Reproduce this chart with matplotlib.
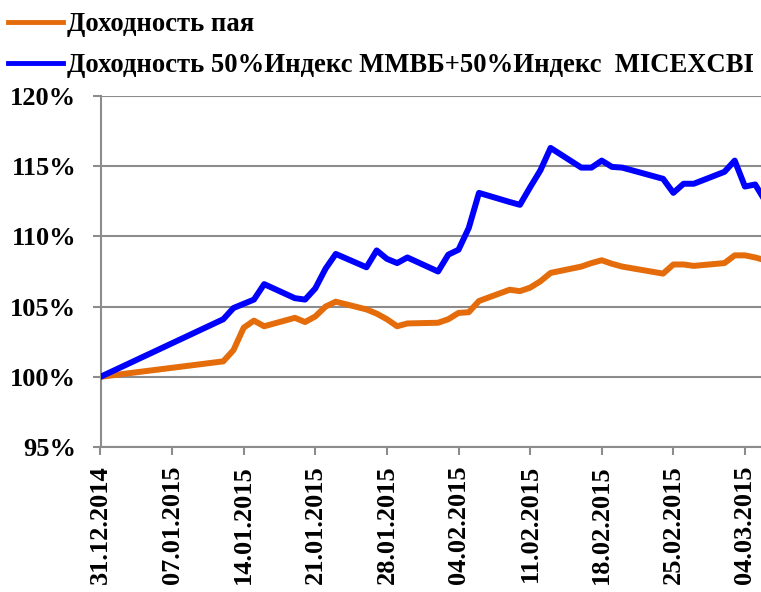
import numpy as np
import pandas as pd
import matplotlib
matplotlib.use("Agg")
import matplotlib.pyplot as plt
import matplotlib.dates as mdates
from matplotlib.ticker import FuncFormatter

# trading dates
dates = ["31.12.2014",
         "12.01.2015", "13.01.2015", "14.01.2015", "15.01.2015", "16.01.2015",
         "19.01.2015", "20.01.2015", "21.01.2015", "22.01.2015", "23.01.2015",
         "26.01.2015", "27.01.2015", "28.01.2015", "29.01.2015", "30.01.2015",
         "02.02.2015", "03.02.2015", "04.02.2015", "05.02.2015", "06.02.2015",
         "09.02.2015", "10.02.2015", "11.02.2015", "12.02.2015", "13.02.2015",
         "16.02.2015", "17.02.2015", "18.02.2015", "19.02.2015", "20.02.2015",
         "24.02.2015", "25.02.2015", "26.02.2015", "27.02.2015",
         "02.03.2015", "03.03.2015", "04.03.2015", "05.03.2015", "06.03.2015"]

fund = [100.0,
        101.1, 101.9, 103.5, 104.0, 103.6,
        104.2, 103.9, 104.3, 105.0, 105.35,
        104.8, 104.5, 104.1, 103.6, 103.8,
        103.85, 104.1, 104.55, 104.6, 105.4,
        106.2, 106.1, 106.35, 106.8, 107.4,
        107.85, 108.1, 108.3, 108.05, 107.85,
        107.35, 108.0, 108.0, 107.9,
        108.1, 108.65, 108.65, 108.5, 108.3]

bench = [100.0,
         104.1, 104.9, 105.2, 105.5, 106.6,
         105.6, 105.5, 106.3, 107.7, 108.75,
         107.8, 109.0, 108.4, 108.1, 108.5,
         107.5, 108.7, 109.05, 110.6, 113.1,
         112.45, 112.25, 113.5, 114.7, 116.3,
         114.9, 114.9, 115.4, 114.95, 114.9,
         114.1, 113.1, 113.75, 113.75,
         114.6, 115.4, 113.55, 113.7, 112.5]

labels = ["Доходность пая",
          "Доходность 50%Индекс ММВБ+50%Индекс  MICEXCBI"]

x = pd.to_datetime(dates, format="%d.%m.%Y")
start = x[0]

plt.rcParams['font.family'] = ['Liberation Serif', 'DejaVu Serif']
plt.rcParams['font.weight'] = 'bold'

fig = plt.figure(figsize=(7.61, 5.92), dpi=100)
ax = fig.add_axes([100.5 / 761, 1 - 447 / 592, 1 - 100.5 / 761, (447 - 96) / 592])

ax.plot(x, np.array(fund) / 100, color="#E46C0A", lw=4.3, label=labels[0],
        solid_joinstyle="round", zorder=3)
ax.plot(x, np.array(bench) / 100, color="#0000FF", lw=4.3, label=labels[1],
        solid_joinstyle="round", zorder=3)

ax.set_ylim(0.95, 1.20)
ax.set_yticks(np.arange(0.95, 1.2001, 0.05))
ax.yaxis.set_major_formatter(FuncFormatter(lambda v, p: f"{v * 100:.0f}%"))

ax.set_xlim(start, start + pd.Timedelta(days=64.57))
ticks = pd.date_range(start, periods=10, freq="7D")
ax.set_xticks(ticks)
ax.xaxis.set_major_formatter(mdates.DateFormatter("%d.%m.%Y"))
plt.setp(ax.get_xticklabels(), rotation=90)

grey = "#8C8C8C"
ax.grid(axis="y", color=grey, lw=1.5)
ax.set_axisbelow(True)
for s in ["top", "right"]:
    ax.spines[s].set_visible(False)
for s in ["left", "bottom"]:
    ax.spines[s].set_color(grey)
    ax.spines[s].set_linewidth(1.5)
ax.tick_params(axis="both", colors=grey, width=1.5, length=6, labelsize=19,
               labelcolor="black")
ax.tick_params(axis="x", pad=7)
ax.tick_params(axis="y", pad=11.5)

leg = fig.legend(loc="upper left", bbox_to_anchor=(-0.0035, 0.998), frameon=False,
                 fontsize=19.2, handlelength=2.06, handletextpad=0.15,
                 labelspacing=0.61, borderaxespad=0.0)
for h in leg.get_lines():
    h.set_linewidth(3.5)

fig.savefig("out.png", dpi=100)
